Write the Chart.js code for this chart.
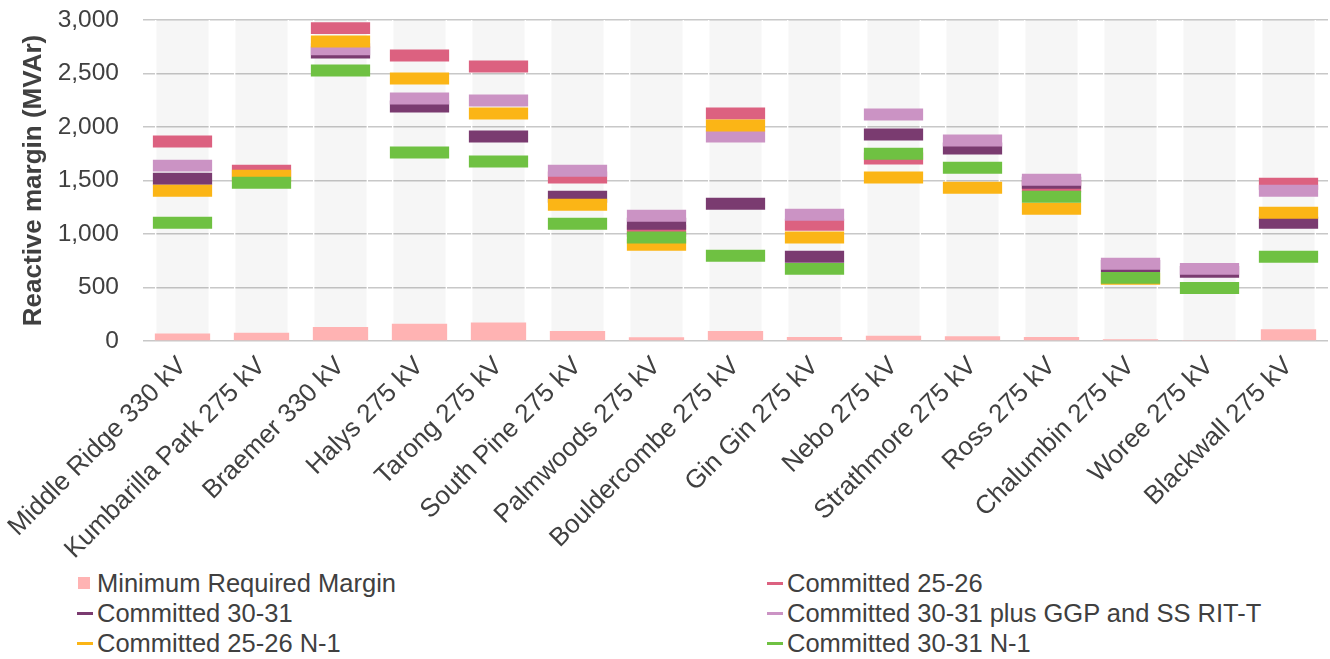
<!DOCTYPE html>
<html>
<head>
<meta charset="utf-8">
<script src="https://cdn.jsdelivr.net/npm/chart.js@4.4.1/dist/chart.umd.min.js"></script>
<style>
  body { margin: 0; background: #fff; font-family: "Liberation Sans", Arial, sans-serif; }
  #wrap { position: relative; width: 1330px; height: 659px; }
  #box { position: absolute; left: 0; top: 0; width: 1330px; height: 560px; }
  #legend { position: absolute; left: 0; top: 568px; width: 1330px; color: #404040; font-size: 25.5px; }
  .item { position: absolute; height: 30px; line-height: 30px; white-space: nowrap; }
  .sw { position: absolute; }
</style>
</head>
<body>
<div id="wrap">
  <div id="box"><canvas id="chart"></canvas></div>
  <div id="legend"></div>
</div>
<script>
// substations on the x axis
const categories = [
  'Middle Ridge 330 kV', 'Kumbarilla Park 275 kV', 'Braemer 330 kV', 'Halys 275 kV',
  'Tarong 275 kV', 'South Pine 275 kV', 'Palmwoods 275 kV', 'Bouldercombe 275 kV',
  'Gin Gin 275 kV', 'Nebo 275 kV', 'Strathmore 275 kV', 'Ross 275 kV',
  'Chalumbin 275 kV', 'Woree 275 kV', 'Blackwall 275 kV'
];

// MVAr
const minMargin   = [69, 78, 131, 162, 172, 94, 34, 94, 37, 50, 44, 37, 16, 9, 109];
const c2526       = [1864, 1592, 2924, 2669, 2566, 1527, 1030, 2126, 1086, 1705, null, 1446, null, null, 1470];
const c3031       = [1517, null, 2697, 2192, 1911, 1349, 1096, 1283, 787, 1929, 1798, 1480, 702, 646, 1105];
const c3031plus   = [1639, null, 2726, 2267, 2248, 1592, 1171, 1911, 1180, 2117, 1873, 1508, 721, 674, 1405];
const c2526n1     = [1405, 1545, 2800, 2454, 2126, 1274, 899, 2014, 968, 1527, 1433, 1236, 581, null, 1199];
const c3031n1     = [1105, 1480, 2529, 1761, 1677, 1096, 968, 796, 674, 1751, 1620, 1349, 590, 496, 787];

const yTicksMax = 3000;
const yStep = 500;

const TEXT = '#404040';
const FONT = 'Liberation Sans, Arial';
const MARK = 56; // half thickness of the dash markers, in MVAr

function marks(arr) {
  return arr.map(v => v == null ? null : [v - MARK, v + MARK]);
}

// legend order = reading order, left to right
const series = [
  { label: 'Minimum Required Margin', color: '#ffb3b3', box: true },
  { label: 'Committed 25-26', color: '#dc6180', data: c2526 },
  { label: 'Committed 30-31', color: '#7a3b70', data: c3031 },
  { label: 'Committed 30-31 plus GGP and SS RIT-T', color: '#cb93c4', data: c3031plus },
  { label: 'Committed 25-26 N-1', color: '#fbb516', data: c2526n1 },
  { label: 'Committed 30-31 N-1', color: '#6fc142', data: c3031n1 }
];

const datasets = [
  {
    label: 'bg',
    data: categories.map(() => yTicksMax),
    backgroundColor: 'rgba(0,0,0,0.035)',
    borderColor: '#ffffff',
    borderWidth: { left: 1.5, right: 1.5, top: 0, bottom: 0 },
    borderSkipped: false,
    barPercentage: 0.7,
    order: 10
  },
  {
    label: series[0].label,
    data: minMargin,
    backgroundColor: series[0].color,
    barPercentage: 0.7,
    order: 9
  }
];
// later series drawn on top, like the original
series.slice(1).forEach((s, i) => {
  datasets.push({
    label: s.label,
    data: marks(s.data),
    backgroundColor: s.color,
    barPercentage: 0.75,
    order: 8 - i
  });
});

new Chart(document.getElementById('chart'), {
  type: 'bar',
  data: { labels: categories, datasets: datasets },
  options: {
    responsive: true,
    maintainAspectRatio: false,
    animation: false,
    layout: { padding: { left: 18, top: 20, right: 2, bottom: 0 } },
    datasets: { bar: { grouped: false, categoryPercentage: 1 } },
    plugins: { legend: { display: false }, tooltip: { enabled: false } },
    scales: {
      x: {
        grid: { display: false },
        border: { display: false },
        ticks: {
          autoSkip: false, minRotation: 45, maxRotation: 45, padding: 2,
          color: TEXT, font: { family: FONT, size: 26 }
        },
        afterFit: s => { s.height = 219; }
      },
      y: {
        min: 0, max: yTicksMax,
        grid: { color: '#c8c8c8', lineWidth: 1.5, drawTicks: true, tickLength: 21, tickColor: 'rgba(0,0,0,0)' },
        border: { display: false },
        ticks: {
          stepSize: yStep, padding: 3, color: TEXT,
          font: { family: FONT, size: 24.5 },
          callback: v => v.toLocaleString('en-US')
        },
        title: {
          display: true, text: 'Reactive margin (MVAr)', color: TEXT,
          font: { family: FONT, size: 26, weight: 'bold' },
          padding: { top: 0, bottom: 0 }
        },
        afterFit: s => { s.width = 125; }
      }
    }
  }
});

// legend in two columns under the chart
const legend = document.getElementById('legend');
series.forEach((s, i) => {
  const col = i % 2, row = Math.floor(i / 2);
  const x = col === 0 ? 77 : 767;
  const item = document.createElement('div');
  item.className = 'item';
  item.style.left = x + 'px';
  item.style.top = (row * 30) + 'px';
  const sw = document.createElement('span');
  sw.className = 'sw';
  sw.style.background = s.color;
  if (s.box) {
    sw.style.left = '1px'; sw.style.top = '9px'; sw.style.width = '12px'; sw.style.height = '12px';
  } else {
    sw.style.left = '0px'; sw.style.top = '14px'; sw.style.width = '16px'; sw.style.height = '3px';
  }
  const txt = document.createElement('span');
  txt.textContent = s.label;
  txt.style.marginLeft = '20px';
  item.appendChild(sw);
  item.appendChild(txt);
  legend.appendChild(item);
});
</script>
</body>
</html>
